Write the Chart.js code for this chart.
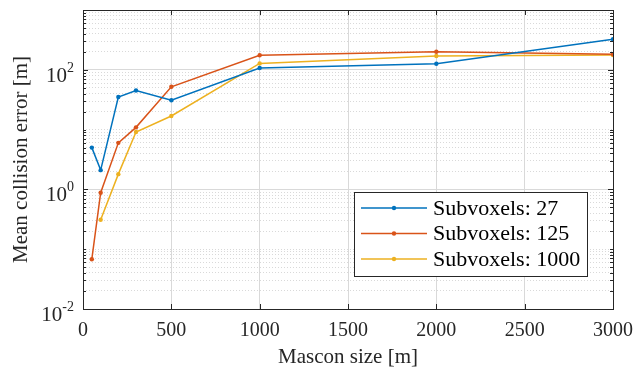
<!DOCTYPE html>
<html>
<head>
<meta charset="utf-8">
<script src="https://cdn.jsdelivr.net/npm/chart.js@4"></script>
<style>
  html, body { margin: 0; padding: 0; background: #fff; }
  #wrap { width: 635px; height: 376px; }
</style>
</head>
<body>
<div id="wrap"><canvas id="chart"></canvas></div>
<script>
// data
const masconSizes = [50, 100, 200, 300, 500, 1000, 2000, 3000];
const err27 = [5.0, 2.1, 35, 45, 31, 107, 126, 325];
const err125 = [0.068, 0.88, 6.0, 10.9, 52, 175, 200, 182];
const err1000 = [null, 0.31, 1.8, 9.1, 16.9, 128, 170, 177];
const seriesLabels = ["Subvoxels: 27", "Subvoxels: 125", "Subvoxels: 1000"];
const seriesColors = ["#0072BD", "#D95319", "#EDB120"];
const xTicks = [0, 500, 1000, 1500, 2000, 2500, 3000];
const yLabelExps = [-2, 0, 2];          // labelled decades
const yDecades = [-2, -1, 0, 1, 2, 3];

const FONT = "'Liberation Serif', 'DejaVu Serif', serif";
const AXIS = "#262626";
const GRID = "#d9d9d9";

// every log tick: 1..9 x 10^d
const yAllTicks = [];
yDecades.forEach(d => {
    for (let m = 1; m <= 9; m++) {
        if (d === 3 && m > 1) break;
        yAllTicks.push(m * Math.pow(10, d));
    }
});
const isMajor = v => yLabelExps.some(e => Math.abs(v - Math.pow(10, e)) < 1e-9 * Math.pow(10, e));

function toPoints(vals) {
    return masconSizes.map((x, i) => ({ x: x, y: vals[i] }));
}

const datasets = [err27, err125, err1000].map((vals, i) => ({
    label: seriesLabels[i],
    data: toPoints(vals),
    borderColor: seriesColors[i],
    backgroundColor: seriesColors[i],
    borderWidth: 1.5,
    pointRadius: 2.2,
    pointHoverRadius: 2.2,
    pointBorderWidth: 0,
    tension: 0,
    xAxisID: "x",
    yAxisID: "y",
}));

const matlabAxes = {
    id: "matlabAxes",
    afterDatasetsDraw(chart) {
        const { ctx, chartArea: a, scales } = chart;
        const x = scales.x, y = scales.y;
        ctx.save();

        // frame
        ctx.strokeStyle = AXIS;
        ctx.lineWidth = 1;
        ctx.strokeRect(Math.round(a.left) + 0.5, Math.round(a.top) + 0.5,
            Math.round(a.right - a.left), Math.round(a.bottom - a.top));

        // inward tick marks
        ctx.beginPath();
        xTicks.forEach(v => {
            const px = Math.round(x.getPixelForValue(v)) + 0.5;
            ctx.moveTo(px, a.bottom); ctx.lineTo(px, a.bottom - 5);
            ctx.moveTo(px, a.top); ctx.lineTo(px, a.top + 5);
        });
        yAllTicks.forEach(v => {
            const py = Math.round(y.getPixelForValue(v)) + 0.5;
            const len = isMajor(v) ? 5 : 3;
            ctx.moveTo(a.left, py); ctx.lineTo(a.left + len, py);
            ctx.moveTo(a.right, py); ctx.lineTo(a.right - len, py);
        });
        ctx.stroke();

        // y tick labels 10^n
        ctx.fillStyle = AXIS;
        ctx.textBaseline = "alphabetic";
        yLabelExps.forEach(e => {
            const py = y.getPixelForValue(Math.pow(10, e));
            const sup = e < 0 ? "-" + Math.abs(e) : String(e);
            ctx.font = "14px " + FONT;
            const supW = ctx.measureText(sup).width;
            ctx.font = "21px " + FONT;
            const baseW = ctx.measureText("10").width;
            const right = a.left - 9;
            ctx.textAlign = "left";
            ctx.fillText("10", right - supW - baseW, py + 12);
            ctx.font = "14px " + FONT;
            ctx.fillText(sup, right - supW, py + 2);
        });

        // legend box
        const lx = 354, ly = 192, lw = 233, lh = 84;
        ctx.fillStyle = "#fff";
        ctx.fillRect(lx, ly, lw, lh);
        ctx.strokeStyle = AXIS;
        ctx.lineWidth = 1;
        ctx.strokeRect(lx + 0.5, ly + 0.5, lw, lh);
        chart.data.datasets.forEach((ds, i) => {
            const cy = ly + 16 + i * 25.5;
            ctx.strokeStyle = ds.borderColor;
            ctx.lineWidth = 1.5;
            ctx.beginPath();
            ctx.moveTo(361, cy); ctx.lineTo(427, cy);
            ctx.stroke();
            ctx.fillStyle = ds.borderColor;
            ctx.beginPath();
            ctx.arc(394, cy, 2.2, 0, Math.PI * 2);
            ctx.fill();
            ctx.fillStyle = "#000";
            ctx.font = "22px " + FONT;
            ctx.textAlign = "left";
            ctx.textBaseline = "middle";
            ctx.fillText(ds.label, 433, cy + 1);
        });
        ctx.restore();
    }
};

new Chart(document.getElementById("chart"), {
    type: "line",
    data: { datasets: datasets },
    options: {
        responsive: true,
        maintainAspectRatio: false,
        animation: false,
        layout: { padding: { top: 10, right: 22, left: 0, bottom: 0 } },
        plugins: { legend: { display: false }, tooltip: { enabled: false } },
        scales: {
            x: {
                type: "linear",
                min: 0,
                max: 3000,
                afterBuildTicks: s => { s.ticks = xTicks.map(v => ({ value: v })); },
                afterFit: s => { s.height = 67; s.paddingRight = 0; s.paddingLeft = 0; },
                grid: { color: GRID, lineWidth: 1, drawTicks: false },
                border: { display: false },
                ticks: {
                    color: AXIS,
                    font: { family: FONT, size: 20 },
                    padding: 10,
                    maxRotation: 0,
                    callback: v => String(v),
                },
                title: {
                    display: true,
                    text: "Mascon size [m]",
                    color: AXIS,
                    font: { family: FONT, size: 21 },
                    padding: { top: 0, bottom: 6 },
                },
            },
            y: {
                type: "logarithmic",
                min: 0.01,
                max: 1000,
                afterBuildTicks: s => { s.ticks = yAllTicks.map(v => ({ value: v })); },
                afterFit: s => { s.width = 83; },
                grid: {
                    color: c => (c.tick && isMajor(c.tick.value)) ? GRID : "rgba(0,0,0,0)",
                    lineWidth: 1,
                    drawTicks: false,
                },
                border: { display: false },
                ticks: { display: false },
                title: {
                    display: true,
                    text: "Mean collision error [m]",
                    color: AXIS,
                    font: { family: FONT, size: 21 },
                    padding: { top: 9, bottom: 0 },
                },
            },
            yMinor: {
                type: "logarithmic",
                position: "left",
                min: 0.01,
                max: 1000,
                afterBuildTicks: s => { s.ticks = yAllTicks.map(v => ({ value: v })); },
                afterFit: s => { s.width = 0; },
                grid: {
                    color: c => (c.tick && !isMajor(c.tick.value)) ? GRID : "rgba(0,0,0,0)",
                    lineWidth: 1,
                    drawTicks: false,
                },
                border: { display: false, dash: [1, 2] },
                ticks: { display: false },
            },
        },
    },
    plugins: [matlabAxes],
});
</script>
</body>
</html>
